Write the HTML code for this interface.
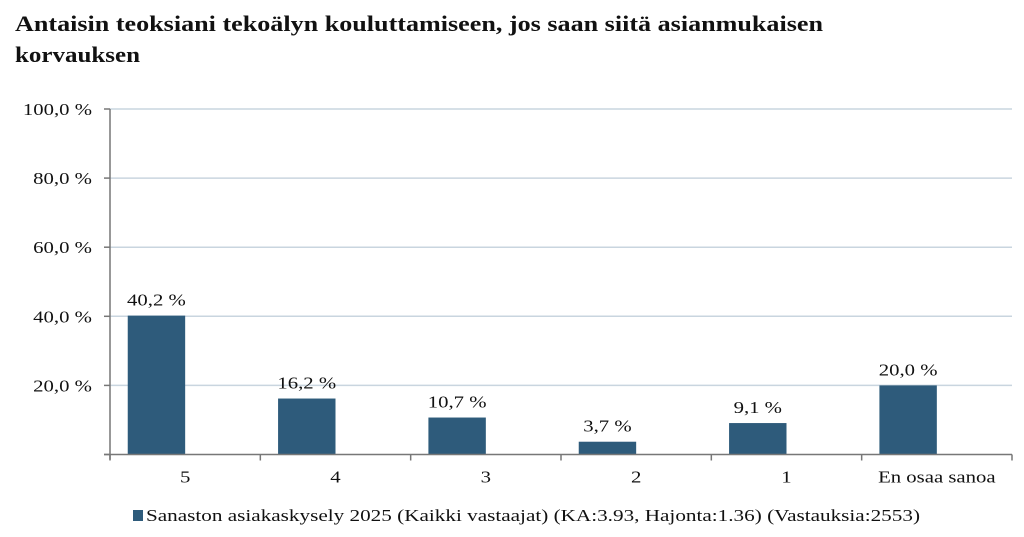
<!DOCTYPE html>
<html><head><meta charset="utf-8"><style>
body{margin:0;background:#fff;}
svg{display:block;font-family:"Liberation Serif",serif;}
</style></head><body>
<svg id="chart" width="1024" height="537" viewBox="0 0 1024 537">
<text x="15" y="31" font-size="22" font-weight="bold" fill="#111" textLength="808" lengthAdjust="spacingAndGlyphs">Antaisin teoksiani tekoälyn kouluttamiseen, jos saan siitä asianmukaisen</text>
<text x="15" y="62" font-size="22" font-weight="bold" fill="#111" textLength="125" lengthAdjust="spacingAndGlyphs">korvauksen</text>
<g id="grid"></g><g id="bars"></g><g id="axes"></g>
<rect x="133" y="510" width="10" height="11" fill="#2e5b7b"/>
<text x="146" y="521" font-size="17" fill="#111" textLength="774" lengthAdjust="spacingAndGlyphs">Sanaston asiakaskysely 2025 (Kaikki vastaajat) (KA:3.93, Hajonta:1.36) (Vastauksia:2553)</text>
</svg>
<script>
const categories=["5","4","3","2","1","En osaa sanoa"];
const values=[40.2,16.2,10.7,3.7,9.1,20.0];
const valueLabels=["40,2 %","16,2 %","10,7 %","3,7 %","9,1 %","20,0 %"];
const yTicks=[0,20,40,60,80,100];
const yTickLabels=["","20,0 %","40,0 %","60,0 %","80,0 %","100,0 %"];
const NS="http://www.w3.org/2000/svg";
const x0=110,x1=1012,y0=454.5,yTop=109;
const bw=(x1-x0)/categories.length;
const y=v=>y0-(v/100)*(y0-yTop);
function mk(t,a,p){const e=document.createElementNS(NS,t);for(const k in a)e.setAttribute(k,a[k]);p.appendChild(e);return e;}
function widen(e){const L=e.getComputedTextLength();e.setAttribute('textLength',(L*1.22).toFixed(1));e.setAttribute('lengthAdjust','spacingAndGlyphs');}
const grid=document.getElementById('grid'),bars=document.getElementById('bars'),axes=document.getElementById('axes');
yTicks.forEach((t,i)=>{
  if(t>0){const g=mk('line',{x1:x0,x2:x1,y1:y(t),y2:y(t),stroke:'#c9d5df','stroke-width':1.5},grid);
  
  }
  const tk=mk('line',{x1:x0-6,x2:x0,y1:y(t),y2:y(t),stroke:'#777','stroke-width':1.5},axes);
  
  
  if(yTickLabels[i]){const l=mk('text',{x:92,y:y(t)+6,'font-size':17,'text-anchor':'end',fill:'#111'},axes);l.textContent=yTickLabels[i];widen(l);
  
  }
});
const ya=mk('line',{x1:x0,x2:x0,y1:yTop,y2:y0+5,stroke:'#777','stroke-width':1.5},axes);


const xa=mk('line',{x1:x0-6,x2:x1,y1:y0,y2:y0,stroke:'#777','stroke-width':1.5},axes);


for(let i=0;i<=categories.length;i++){const t=mk('line',{x1:x0+i*bw,x2:x0+i*bw,y1:y0,y2:y0+6,stroke:'#777','stroke-width':1.5},axes);

}
categories.forEach((c,i)=>{
  const cs=x0+i*bw,cx=cs+bw/2,bl=cs+bw*0.118,br=cx;
  const r=mk('rect',{x:bl,y:y(values[i]),width:br-bl,height:y0-y(values[i]),fill:'#2e5b7b'},bars);
  
  
  const v=mk('text',{x:(bl+br)/2,y:y(values[i])-10,'font-size':17,'text-anchor':'middle',fill:'#111'},bars);v.textContent=valueLabels[i];widen(v);
  
  
  const l=mk('text',{x:cx,y:y0+28,'font-size':17,'text-anchor':'middle',fill:'#111'},axes);l.textContent=c;widen(l);
  
  
});
</script>
</body></html>
